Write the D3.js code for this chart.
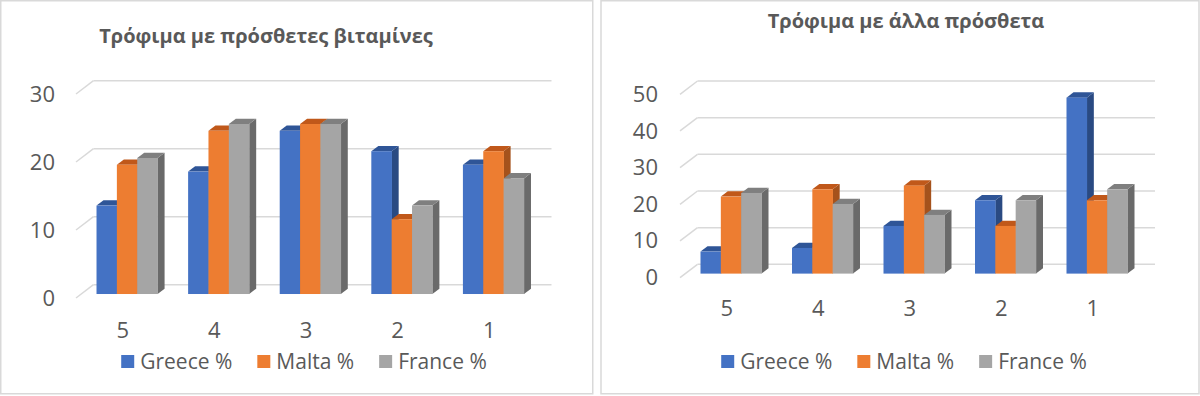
<!DOCTYPE html>
<html>
<head>
<meta charset="utf-8">
<script src="https://cdn.jsdelivr.net/npm/d3@7"></script>
<style>
  body { margin: 0; background: #fff; }
  svg text { font-family: "Open Sans", "Noto Sans", "DejaVu Sans", sans-serif; fill: #595959; }
</style>
</head>
<body>
<svg id="chart" width="1200" height="396"></svg>
<script>
// data
var categories = ["5", "4", "3", "2", "1"];
var seriesNames = ["Greece %", "Malta %", "France %"];

var vitTitle = "Τρόφιμα με πρόσθετες βιταμίνες";
var vitGreece = [13, 18, 24, 21, 19];
var vitMalta = [19, 24, 25, 11, 21];
var vitFrance = [20, 25, 25, 13, 17];
var vitTicks = [0, 10, 20, 30];

var addTitle = "Τρόφιμα με άλλα πρόσθετα";
var addGreece = [6, 7, 13, 20, 48];
var addMalta = [21, 23, 24, 13, 20];
var addFrance = [22, 19, 16, 20, 23];
var addTicks = [0, 10, 20, 30, 40, 50];

// colours: front, top, side
var fronts = ["#4472C4", "#ED7D31", "#A5A5A5"];
var tops = ["#2F5597", "#C0581A", "#7F7F7F"];
var sides = ["#2A4A82", "#A5521C", "#6A6A6A"];

// oblique depth of the plot box
var depthX = 17.5, depthY = 13.3;

var svg = d3.select("#chart");

svg.append("rect").attr("x", 0.75).attr("y", 0.75).attr("width", 592).attr("height", 393)
    .attr("fill", "#fff").attr("stroke", "#d9d9d9").attr("stroke-width", 1.5);
svg.append("rect").attr("x", 601).attr("y", 0.75).attr("width", 598).attr("height", 393)
    .attr("fill", "#fff").attr("stroke", "#d9d9d9").attr("stroke-width", 1.5);

function drawChart(opt) {
    var g = svg.append("g");
    var series = [opt.greece, opt.malta, opt.france];

    var x = d3.scaleBand().domain(categories)
        .range([opt.left, opt.right]).paddingInner(1 / 3).paddingOuter(1 / 6);
    var xs = d3.scaleBand().domain(seriesNames).range([0, x.bandwidth()]);
    var y = d3.scaleLinear().domain([0, d3.max(opt.ticks)]).range([opt.bottom, opt.top]);

    // back wall gridlines + the left diagonals
    g.selectAll("line.grid").data(opt.ticks).enter().append("line")
        .attr("x1", opt.left + depthX).attr("x2", opt.right + depthX)
        .attr("y1", function (d) { return y(d) - depthY; })
        .attr("y2", function (d) { return y(d) - depthY; })
        .attr("stroke", "#d9d9d9").attr("stroke-width", 1.5);
    g.selectAll("line.diag").data(opt.ticks).enter().append("line")
        .attr("x1", opt.left).attr("x2", opt.left + depthX)
        .attr("y1", function (d) { return y(d); })
        .attr("y2", function (d) { return y(d) - depthY; })
        .attr("stroke", "#d9d9d9").attr("stroke-width", 1.5);

    // y axis labels
    var yAxis = g.append("g").attr("transform", "translate(" + (opt.tickX + 9) + ",0)")
        .call(d3.axisLeft(y).tickValues(opt.ticks).tickSize(0).tickPadding(9));
    yAxis.select(".domain").remove();
    yAxis.selectAll("text").attr("font-size", 22).attr("fill", "#595959")
        .style("font-family", null);

    // category labels
    var xAxis = g.append("g").attr("transform", "translate(1," + opt.catY + ")")
        .call(d3.axisBottom(x).tickSize(0).tickPadding(0));
    xAxis.select(".domain").remove();
    xAxis.selectAll("text").attr("y", 0).attr("dy", "0.35em").attr("font-size", 22)
        .attr("fill", "#595959").style("font-family", null);

    // 3d bars
    var off0x = depthX * 0.3, off0y = depthY * 0.3;
    var bdx = depthX * 0.4, bdy = depthY * 0.4;
    var bw = xs.bandwidth();
    var bars = [];
    categories.forEach(function (c, i) {
        seriesNames.forEach(function (s, j) {
            bars.push({ c: c, s: s, j: j, v: series[j][i] });
        });
    });
    var bar = g.selectAll("g.bar").data(bars).enter().append("g");
    function pts(a) { return a.map(function (p) { return p.join(","); }).join(" "); }
    bar.append("polygon").attr("fill", function (d) { return sides[d.j]; })
        .attr("points", function (d) {
            var x1 = x(d.c) + xs(d.s) + off0x + bw, yb = y(0) - off0y, yt = y(d.v) - off0y;
            return pts([[x1, yb], [x1, yt], [x1 + bdx, yt - bdy], [x1 + bdx, yb - bdy]]);
        });
    bar.append("polygon").attr("fill", function (d) { return tops[d.j]; })
        .attr("points", function (d) {
            var x0 = x(d.c) + xs(d.s) + off0x, yt = y(d.v) - off0y;
            return pts([[x0, yt], [x0 + bw, yt], [x0 + bw + bdx, yt - bdy], [x0 + bdx, yt - bdy]]);
        });
    bar.append("rect").attr("fill", function (d) { return fronts[d.j]; })
        .attr("x", function (d) { return x(d.c) + xs(d.s) + off0x; })
        .attr("y", function (d) { return y(d.v) - off0y; })
        .attr("width", bw + 0.3)
        .attr("height", function (d) { return y(0) - y(d.v); });

    // title
    g.append("text").attr("x", opt.titleX).attr("y", opt.titleY)
        .attr("text-anchor", "middle").attr("font-size", 20).attr("font-weight", "bold")
        .text(opt.title);

    // legend, centred
    var leg = g.append("g");
    var cx = 0;
    seriesNames.forEach(function (s, j) {
        var it = leg.append("g").attr("transform", "translate(" + cx + ",0)");
        it.append("rect").attr("x", 0).attr("y", -6.5).attr("width", 13).attr("height", 13)
            .attr("fill", fronts[j]);
        var t = it.append("text").attr("x", 19).attr("y", 0).attr("dy", "0.35em")
            .attr("font-size", 21).text(s);
        cx += 19 + t.node().getComputedTextLength() + 25;
    });
    var lw = cx - 25;
    leg.attr("transform", "translate(" + (opt.legendCx - lw / 2) + "," + opt.legendY + ")");
}

drawChart({
    title: vitTitle, greece: vitGreece, malta: vitMalta, france: vitFrance, ticks: vitTicks,
    left: 76, right: 534, bottom: 298, top: 94, tickX: 55, catY: 330,
    titleX: 266, titleY: 43, legendCx: 304, legendY: 361.5
});
drawChart({
    title: addTitle, greece: addGreece, malta: addMalta, france: addFrance, ticks: addTicks,
    left: 680, right: 1137.5, bottom: 277.6, top: 94.3, tickX: 658, catY: 308,
    titleX: 906, titleY: 28, legendCx: 904, legendY: 361.5
});
</script>
</body>
</html>
